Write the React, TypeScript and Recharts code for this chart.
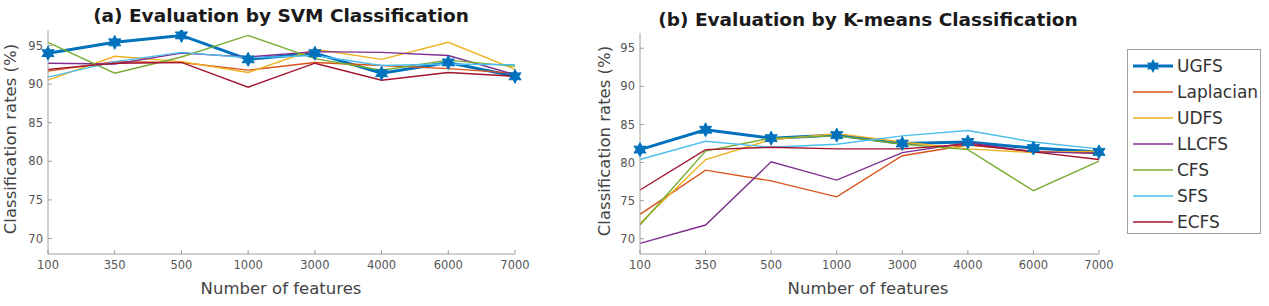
import React from 'react';
import { LineChart, Line, XAxis, YAxis } from 'recharts';

// x categories (number of selected features)
const features = ['100', '350', '500', '1000', '3000', '4000', '6000', '7000'];
const yTicks = [70, 75, 80, 85, 90, 95];

const methods = ['UGFS', 'Laplacian', 'UDFS', 'LLCFS', 'CFS', 'SFS', 'ECFS'];

// (a) SVM classification rates (%)
const svmUGFS = [94.0, 95.4, 96.3, 93.2, 94.0, 91.4, 92.8, 91.0];
const svmLaplacian = [91.7, 92.9, 92.8, 91.8, 92.8, 92.4, 92.0, 91.4];
const svmUDFS = [90.5, 93.6, 92.9, 91.5, 94.5, 93.2, 95.4, 91.9];
const svmLLCFS = [92.7, 92.6, 94.0, 93.5, 94.2, 94.1, 93.7, 91.2];
const svmCFS = [95.4, 91.4, 93.5, 96.3, 93.3, 91.8, 93.1, 92.3];
const svmSFS = [90.9, 92.9, 94.1, 93.4, 93.7, 92.4, 92.6, 92.5];
const svmECFS = [91.9, 92.7, 92.8, 89.6, 92.7, 90.5, 91.5, 91.0];

// (b) K-means classification rates (%)
const kmUGFS = [81.7, 84.3, 83.2, 83.6, 82.5, 82.7, 81.9, 81.4];
const kmLaplacian = [73.2, 79.0, 77.6, 75.5, 80.9, 82.3, 81.5, 81.2];
const kmUDFS = [72.0, 80.4, 83.0, 83.8, 82.7, 81.8, 81.3, 81.5];
const kmLLCFS = [69.4, 71.8, 80.1, 77.7, 81.3, 82.6, 81.4, 81.2];
const kmCFS = [71.8, 81.5, 83.2, 83.5, 82.4, 81.7, 76.3, 80.2];
const kmSFS = [80.4, 82.8, 82.0, 82.4, 83.5, 84.2, 82.7, 81.8];
const kmECFS = [76.4, 81.7, 82.0, 81.8, 81.8, 82.4, 81.4, 80.4];

const colors: Record<string, string> = {
  UGFS: '#0072BD',
  Laplacian: '#D95319',
  UDFS: '#EDB120',
  LLCFS: '#7E2F8E',
  CFS: '#77AC30',
  SFS: '#4DBEEE',
  ECFS: '#A2142F',
};

function buildRows(series: number[][]) {
  return features.map((f, i) => {
    const row: Record<string, string | number> = { f };
    methods.forEach((m, k) => {
      row[m] = series[k][i];
    });
    return row;
  });
}

const svmData = buildRows([svmUGFS, svmLaplacian, svmUDFS, svmLLCFS, svmCFS, svmSFS, svmECFS]);
const kmData = buildRows([kmUGFS, kmLaplacian, kmUDFS, kmLLCFS, kmCFS, kmSFS, kmECFS]);

const FONT = '"DejaVu Sans", sans-serif';
const AXIS = '#a0a0a0';

function starPoints(cx: number, cy: number, ro: number, ri: number) {
  const pts: string[] = [];
  for (let i = 0; i < 12; i++) {
    const r = i % 2 === 0 ? ro : ri;
    const a = (Math.PI / 6) * i - Math.PI / 2;
    pts.push(`${cx + r * Math.cos(a)},${cy + r * Math.sin(a)}`);
  }
  return pts.join(' ');
}

function StarDot(props: any) {
  const { cx, cy, index } = props;
  if (cx == null || cy == null) return <g key={`s-${index}`} />;
  return (
    <polygon
      key={`s-${index}`}
      points={starPoints(cx, cy, 7, 3.8)}
      fill={colors.UGFS}
      stroke={colors.UGFS}
      strokeWidth={1}
    />
  );
}

interface PanelProps {
  data: Record<string, string | number>[];
  left: number;
  width: number;
  margin: { top: number; right: number; bottom: number; left: number };
}

function Panel({ data, left, width, margin }: PanelProps) {
  const tickStyle = { fontSize: 11.5, fill: '#555', fontFamily: FONT };
  return (
    <div style={{ position: 'absolute', left, top: 0 }}>
      <LineChart width={width} height={306} data={data} margin={margin}>
        <XAxis
          dataKey="f"
          height={20}
          tick={tickStyle}
          tickSize={-4}
          tickMargin={11}
          stroke={AXIS}
          interval={0}
        />
        <XAxis
          xAxisId="top"
          dataKey="f"
          orientation="top"
          height={0}
          tick={false}
          tickSize={-4}
          stroke={AXIS}
          interval={0}
        />
        <YAxis
          width={30}
          domain={[68, 97]}
          ticks={yTicks}
          tick={tickStyle}
          tickSize={-4}
          tickMargin={9}
          stroke={AXIS}
          allowDataOverflow
        />
        <YAxis
          yAxisId="r"
          orientation="right"
          width={0}
          domain={[68, 97]}
          ticks={yTicks}
          tick={false}
          tickSize={-4}
          stroke={AXIS}
        />
        {methods.map((m) => (
          <Line
            key={m}
            type="linear"
            dataKey={m}
            stroke={colors[m]}
            strokeWidth={m === 'UGFS' ? 3 : 1.4}
            dot={m === 'UGFS' ? StarDot : false}
            activeDot={false}
            isAnimationActive={false}
          />
        ))}
      </LineChart>
    </div>
  );
}

function Legend() {
  return (
    <div style={styles.legend}>
      {methods.map((m) => (
        <div key={m} style={styles.legendRow}>
          <svg width={42} height={26} style={{ display: 'block' }}>
            <line
              x1={1}
              y1={13}
              x2={41}
              y2={13}
              stroke={colors[m]}
              strokeWidth={m === 'UGFS' ? 3 : 1.4}
            />
            {m === 'UGFS' && <polygon points={starPoints(21, 13, 7, 3.8)} fill={colors.UGFS} />}
          </svg>
          <span style={styles.legendText}>{m}</span>
        </div>
      ))}
    </div>
  );
}

export default function App() {
  return (
    <div style={styles.page}>
      <Panel data={svmData} left={0} width={545} margin={{ top: 30, right: 30, bottom: 32, left: 18 }} />
      <Panel data={kmData} left={600} width={525} margin={{ top: 33, right: 26, bottom: 32, left: 10 }} />

      <div style={{ ...styles.title, left: 281, top: 5 }}>(a) Evaluation by SVM Classification</div>
      <div style={{ ...styles.title, left: 868, top: 9 }}>(b) Evaluation by K-means Classification</div>

      <div style={{ ...styles.xLabel, left: 281, top: 279 }}>Number of features</div>
      <div style={{ ...styles.xLabel, left: 868, top: 279 }}>Number of features</div>

      <div style={{ ...styles.yLabel, left: 11, top: 139 }}>Classification rates (%)</div>
      <div style={{ ...styles.yLabel, left: 605, top: 141 }}>Classification rates (%)</div>

      <Legend />
    </div>
  );
}

const styles: Record<string, React.CSSProperties> = {
  page: {
    position: 'absolute',
    left: 0,
    top: 0,
    width: 1269,
    height: 306,
    background: '#ffffff',
    fontFamily: FONT,
    overflow: 'hidden',
  },

  title: {
    position: 'absolute',
    transform: 'translateX(-50%)',
    whiteSpace: 'nowrap',
    fontSize: '18.5px',
    fontWeight: 'bold',
    color: '#1a1a1a',
    lineHeight: '22px',
  },

  xLabel: {
    position: 'absolute',
    transform: 'translateX(-50%)',
    whiteSpace: 'nowrap',
    fontSize: '16.5px',
    color: '#444',
    lineHeight: '20px',
  },

  yLabel: {
    position: 'absolute',
    transform: 'translate(-50%, -50%) rotate(-90deg)',
    whiteSpace: 'nowrap',
    fontSize: '16.5px',
    color: '#444',
    lineHeight: '20px',
  },

  legend: {
    position: 'absolute',
    left: 1127,
    top: 49,
    width: 134,
    height: 185,
    border: '1px solid #a0a0a0',
    background: '#fff',
    boxSizing: 'border-box',
    paddingTop: 3,
    paddingLeft: 4,
  },

  legendRow: {
    display: 'flex',
    alignItems: 'center',
    height: 26,
  },

  legendText: {
    fontSize: '17px',
    color: '#333',
    marginLeft: 3,
    lineHeight: '26px',
  },
};
